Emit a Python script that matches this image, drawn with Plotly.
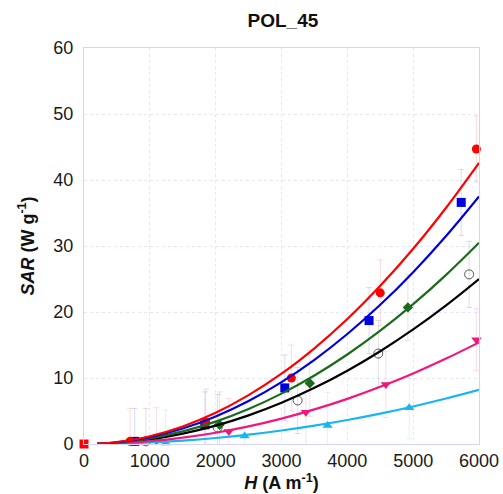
import plotly.graph_objects as go

# ---- data ----
fit_H = [200, 500, 1000, 1500, 2000, 2500, 3000, 3500, 4000, 4500, 5000, 5500, 6000]
fit_red = [0.05, 0.30, 1.18, 2.66, 4.73, 7.40, 10.65, 14.50, 18.93, 23.96, 29.58, 35.80, 42.6]
fit_blue = [0.04, 0.26, 1.04, 2.34, 4.17, 6.51, 9.38, 12.76, 16.67, 21.09, 26.04, 31.51, 37.5]
fit_green = [0.03, 0.21, 0.85, 1.91, 3.39, 5.30, 7.63, 10.38, 13.56, 17.16, 21.18, 25.63, 30.5]
fit_black = [0.03, 0.17, 0.69, 1.56, 2.78, 4.34, 6.25, 8.51, 11.11, 14.06, 17.36, 21.01, 25.0]
fit_pink = [0.02, 0.11, 0.43, 0.96, 1.71, 2.67, 3.85, 5.24, 6.84, 8.66, 10.69, 12.94, 15.4]
fit_cyan = [0.01, 0.06, 0.23, 0.51, 0.91, 1.42, 2.05, 2.79, 3.64, 4.61, 5.69, 6.89, 8.2]

origin_H = [0]
origin_SAR = [0]

red_H = [700, 1850, 3150, 4500, 5960]
red_SAR = [0.4, 3.3, 10.0, 22.9, 44.7]
red_err = [5.0, 5.0, 5.0, 5.0, 5.0]

blue_H = [770, 1835, 3050, 4330, 5730]
blue_SAR = [0.4, 2.9, 8.5, 18.7, 36.6]
blue_err = [5.0, 5.0, 5.0, 5.0, 5.0]

green_H = [2060, 3430, 4920]
green_SAR = [2.9, 9.2, 20.7]
green_err = [5.0, 5.0, 5.0]

black_H = [940, 2030, 3245, 4470, 5850]
black_SAR = [0.4, 2.5, 6.6, 13.7, 25.7]
black_err = [5.0, 5.0, 5.0, 5.0, 5.0]

pink_H = [1100, 2200, 3370, 4585, 5960]
pink_SAR = [0.5, 1.9, 4.8, 9.0, 15.8]
pink_err = [5.0, 5.0, 5.0, 5.0, 4.7]

cyan_H = [1240, 2440, 3700, 4940]
cyan_SAR = [0.15, 1.2, 2.8, 5.5]
cyan_err = [5.0, 5.0, 5.0, 4.7]

x_ticks = [0, 1000, 2000, 3000, 4000, 5000, 6000]
y_ticks = [0, 10, 20, 30, 40, 50, 60]

series = [
    (fit_black, black_H, black_SAR, black_err, "#000000", "rgba(0,0,0,0.13)",
     dict(symbol="circle-open", size=9, color="#555555", line=dict(width=1))),
    (fit_cyan, cyan_H, cyan_SAR, cyan_err, "#19b5ee", "rgba(25,181,238,0.15)",
     dict(symbol="triangle-up", size=9, color="#19b5ee")),
    (fit_pink, pink_H, pink_SAR, pink_err, "#f0187a", "rgba(240,24,122,0.15)",
     dict(symbol="triangle-down", size=9, color="#f0187a")),
    (fit_green, green_H, green_SAR, green_err, "#1b6b1b", "rgba(27,107,27,0.15)",
     dict(symbol="diamond", size=8, color="#1b6b1b")),
    (fit_blue, blue_H, blue_SAR, blue_err, "#0000dd", "rgba(0,0,221,0.15)",
     dict(symbol="square", size=9, color="#0000dd")),
    (fit_red, red_H, red_SAR, red_err, "#ff0000", "rgba(255,0,0,0.15)",
     dict(symbol="circle", size=9, color="#ff0000")),
]

fig = go.Figure()
for fit, H, S, E, col, ecol, mk in series:
    fig.add_trace(go.Scatter(
        x=H, y=S, mode="markers", marker=mk, cliponaxis=False,
        error_y=dict(type="data", array=E, visible=True, color=ecol, thickness=1, width=3),
        showlegend=False))
for fit, H, S, E, col, ecol, mk in series:
    fig.add_trace(go.Scatter(
        x=fit_H, y=fit, mode="lines", line=dict(color=col, width=2.2, shape="spline"),
        showlegend=False))
fig.add_trace(go.Scatter(x=origin_H, y=origin_SAR, mode="markers",
                         marker=dict(symbol="square", size=9, color="#ff0000"),
                         cliponaxis=False, showlegend=False))

axis_common = dict(
    showgrid=True, gridcolor="#e6e6fb", griddash="dot", gridwidth=1,
    showline=True, linecolor="#d4d4f4", linewidth=1, mirror=True,
    ticks="", zeroline=False, automargin=False,
    tickfont=dict(family="Liberation Sans, Arial, sans-serif", size=18, color="#1a1a1a"),
)

fig.update_layout(
    width=503, height=494,
    margin=dict(l=84, r=24, t=48, b=50),
    paper_bgcolor="white", plot_bgcolor="white",
    title=dict(text="<b>POL_45</b>", x=0.5625, xanchor="center", y=0.958, yanchor="middle",
               font=dict(family="Liberation Sans, Arial, sans-serif", size=19, color="#111111")),
    xaxis=dict(range=[0, 6000], tickvals=x_ticks, ticktext=[str(v) for v in x_ticks],
               title=dict(text="<b><i>H</i> (A m<sup>-1</sup>)</b>", standoff=2,
                          font=dict(family="Liberation Sans, Arial, sans-serif", size=18, color="#111111")),
               **axis_common),
    yaxis=dict(range=[0, 60], tickvals=y_ticks, ticktext=[str(v) for v in y_ticks],
               ticklabelstandoff=6,
               title=dict(text="<b><i>SAR</i> (W g<sup>-1</sup>)</b>", standoff=14,
                          font=dict(family="Liberation Sans, Arial, sans-serif", size=18, color="#111111")),
               **axis_common),
)

fig.write_html("out.html")
